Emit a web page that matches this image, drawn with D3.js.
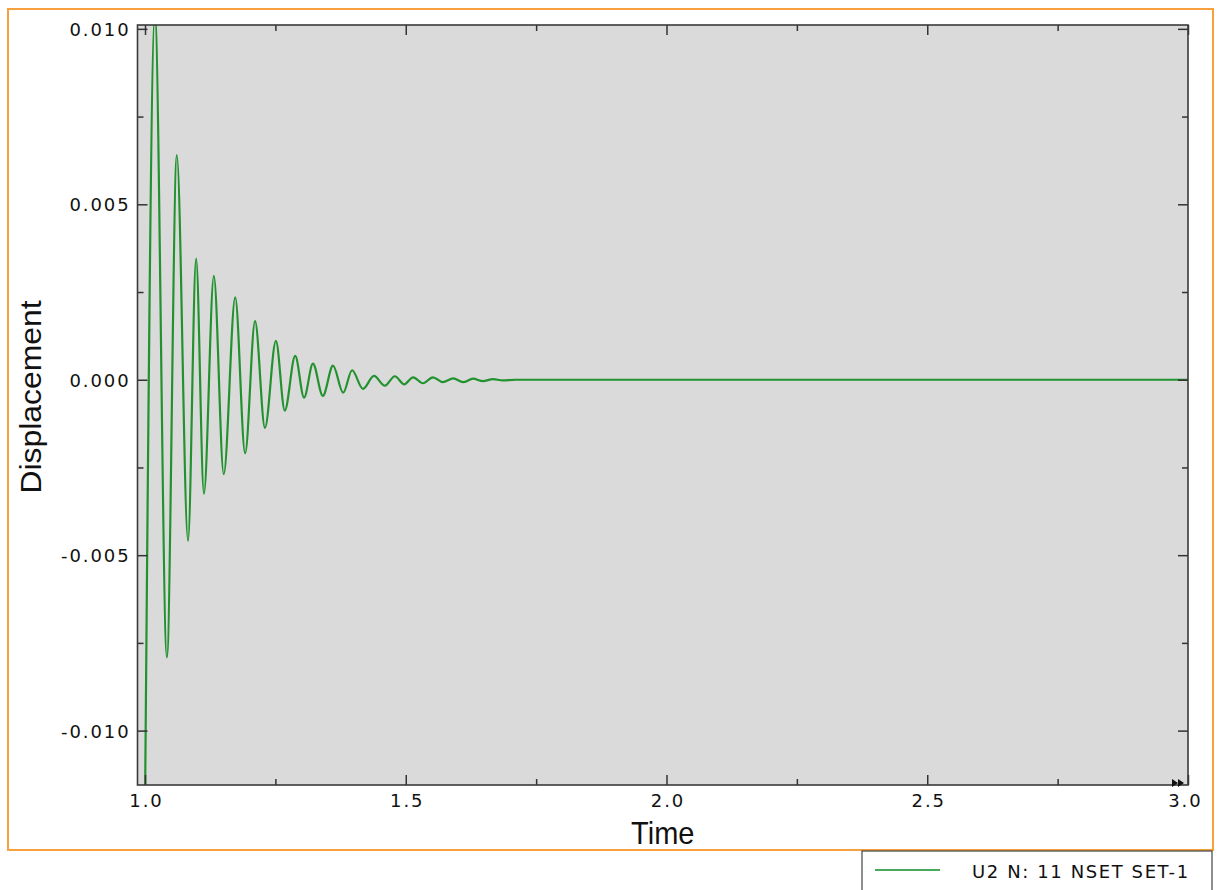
<!DOCTYPE html>
<html>
<head>
<meta charset="utf-8">
<script src="https://cdn.jsdelivr.net/npm/d3@7"></script>
<style>
  html, body { margin: 0; padding: 0; background: #ffffff; }
  svg { display: block; }
</style>
</head>
<body>
<svg id="chart" width="1221" height="890"></svg>
<script>
// ---- Data ----
const seriesName = "U2 N: 11 NSET SET-1";
const xTitle = "Time";
const yTitle = "Displacement";

// time values of the sampled extrema of the response
const times = [
  1.000, 1.019, 1.042, 1.061, 1.0825, 1.098, 1.113, 1.132, 1.151, 1.173,
  1.192, 1.211, 1.230, 1.251, 1.268, 1.288, 1.305, 1.322, 1.341, 1.3605,
  1.380, 1.397, 1.418, 1.439, 1.460, 1.479, 1.497, 1.514, 1.533, 1.552,
  1.571, 1.591, 1.610, 1.629, 1.648, 1.667, 1.686, 1.710, 3.000
];
// displacement U2 at those times
const displacement = [
  -0.0122, 0.0104, -0.00791, 0.0064, -0.00459, 0.00345, -0.00325, 0.00296, -0.00269, 0.00235,
  -0.0021, 0.00167, -0.00137, 0.00111, -0.00088, 0.00068, -0.00051, 0.00046, -0.00046, 0.0004,
  -0.00037, 0.00027, -0.00026, 0.00011, -0.00017, 0.0001, -0.00013, 0.00007, -0.0001, 0.00007,
  -0.00007, 0.00004, -0.00007, 0.00003, -0.00004, 0.00002, -0.00002, 0.0, 0.0
];

const xTickValues = [1.0, 1.25, 1.5, 1.75, 2.0, 2.25, 2.5, 2.75, 3.0];
const xTickLabels = ["1.0", "", "1.5", "", "2.0", "", "2.5", "", "3.0"];
const yTickValues = [-0.010, -0.0075, -0.005, -0.0025, 0.000, 0.0025, 0.005, 0.0075, 0.010];
const yTickLabels = ["-0.010", "", "-0.005", "", "0.000", "", "0.005", "", "0.010"];

// ---- Layout ----
const svg = d3.select("#chart");
const plot = { left: 137.5, right: 1188, top: 25, bottom: 785 };
const W = plot.right - plot.left, H = plot.bottom - plot.top;

const x = d3.scaleLinear().domain([0.9856, 3.0]).range([plot.left, plot.right]);
const y = d3.scaleLinear().domain([-0.01155, 0.01011]).range([plot.bottom, plot.top]);

// orange outer frame
svg.append("rect")
  .attr("x", 8).attr("y", 9).attr("width", 1205).attr("height", 841)
  .attr("fill", "none").attr("stroke", "#f8a040").attr("stroke-width", 2);

// plot background
svg.append("rect")
  .attr("x", plot.left).attr("y", plot.top).attr("width", W).attr("height", H)
  .attr("fill", "#dadada");

// clip
svg.append("defs").append("clipPath").attr("id", "clip")
  .append("rect").attr("x", plot.left).attr("y", plot.top).attr("width", W).attr("height", H);

// data line
const pts = times.map((t, i) => [t, displacement[i]]);
const line = d3.line().x(d => x(d[0])).y(d => y(d[1])).curve(d3.curveMonotoneX);
svg.append("path")
  .datum(pts)
  .attr("clip-path", "url(#clip)")
  .attr("d", line)
  .attr("fill", "none")
  .attr("stroke", "#22922f")
  .attr("stroke-width", 2.2)
  .attr("stroke-linejoin", "round");

// axes (ticks inward on all four sides)
const tickColor = "#333";
const isMajorX = (d, i) => xTickLabels[i] !== "";
const isMajorY = (d, i) => yTickLabels[i] !== "";

function styleAxis(g) {
  g.select(".domain").remove();
  g.selectAll(".tick line").attr("stroke", tickColor).attr("stroke-width", 1.5);
  g.selectAll(".tick text")
    .attr("fill", "#111")
    .style("font-family", "'DejaVu Sans', Verdana, sans-serif")
    .style("font-size", "18px")
    .style("letter-spacing", "1.9px");
}

// bottom
const gB = svg.append("g").attr("transform", `translate(0,${plot.bottom})`)
  .call(d3.axisBottom(x).tickValues(xTickValues).tickFormat((d, i) => xTickLabels[i]).tickSizeOuter(0).tickPadding(0));
styleAxis(gB);
gB.selectAll(".tick line").attr("y1", 0).attr("y2", (d, i) => isMajorX(d, i) ? -10 : -6);
gB.selectAll(".tick text").attr("y", 22).attr("dy", null)
  .attr("text-anchor", (d, i) => i === xTickValues.length - 1 ? "end" : "middle")
  .attr("dx", (d, i) => i === xTickValues.length - 1 ? 14 : 1);

// top
const gT = svg.append("g").attr("transform", `translate(0,${plot.top})`)
  .call(d3.axisTop(x).tickValues(xTickValues).tickFormat("").tickSizeOuter(0));
styleAxis(gT);
gT.selectAll(".tick line").attr("y1", 0).attr("y2", (d, i) => isMajorX(d, i) ? 10 : 6);

// left
const gL = svg.append("g").attr("transform", `translate(${plot.left},0)`)
  .call(d3.axisLeft(y).tickValues(yTickValues).tickFormat((d, i) => yTickLabels[i]).tickSizeOuter(0));
styleAxis(gL);
gL.selectAll(".tick line").attr("x1", 0).attr("x2", (d, i) => isMajorY(d, i) ? 10 : 6);
gL.selectAll(".tick text").attr("x", -7).attr("dy", "0.36em");

// right
const gR = svg.append("g").attr("transform", `translate(${plot.right},0)`)
  .call(d3.axisRight(y).tickValues(yTickValues).tickFormat("").tickSizeOuter(0));
styleAxis(gR);
gR.selectAll(".tick line").attr("x1", 0).attr("x2", (d, i) => isMajorY(d, i) ? -10 : -6);

// plot frame
svg.append("rect")
  .attr("x", plot.left).attr("y", plot.top).attr("width", W).attr("height", H)
  .attr("fill", "none").attr("stroke", "#3a3a3a").attr("stroke-width", 1.6);

// double arrow marker at the end of the time axis
const ax = plot.right - 4, ay = plot.bottom - 2;
svg.append("path")
  .attr("d", `M${ax - 12},${ay - 4} L${ax - 6},${ay} L${ax - 12},${ay + 4} Z M${ax - 6},${ay - 4} L${ax},${ay} L${ax - 6},${ay + 4} Z`)
  .attr("fill", "#111");

// axis titles
svg.append("text")
  .attr("transform", `translate(${(plot.left + plot.right) / 2},844) scale(1,1.1)`)
  .attr("text-anchor", "middle")
  .style("font-family", "'Liberation Sans', Arial, sans-serif")
  .style("font-size", "29px")
  .attr("fill", "#111")
  .text(xTitle);

svg.append("text")
  .attr("transform", `translate(41,${(plot.top + plot.bottom) / 2 - 8}) rotate(-90) scale(1.1,1)`)
  .attr("text-anchor", "middle")
  .style("font-family", "'Liberation Sans', Arial, sans-serif")
  .style("font-size", "29px")
  .attr("fill", "#111")
  .text(yTitle);

// legend
const lg = svg.append("g").attr("transform", "translate(862,851)");
lg.append("rect").attr("x", 0).attr("y", 0).attr("width", 350).attr("height", 60)
  .attr("fill", "#ffffff").attr("stroke", "#444").attr("stroke-width", 1.2);
lg.append("line").attr("x1", 13).attr("x2", 78).attr("y1", 19).attr("y2", 19)
  .attr("stroke", "#4aa85a").attr("stroke-width", 2);
lg.append("text").attr("x", 110).attr("y", 27)
  .style("font-family", "'DejaVu Sans', Verdana, sans-serif")
  .style("font-size", "18px")
  .style("letter-spacing", "1.6px")
  .attr("fill", "#111")
  .text(seriesName);
</script>
</body>
</html>
